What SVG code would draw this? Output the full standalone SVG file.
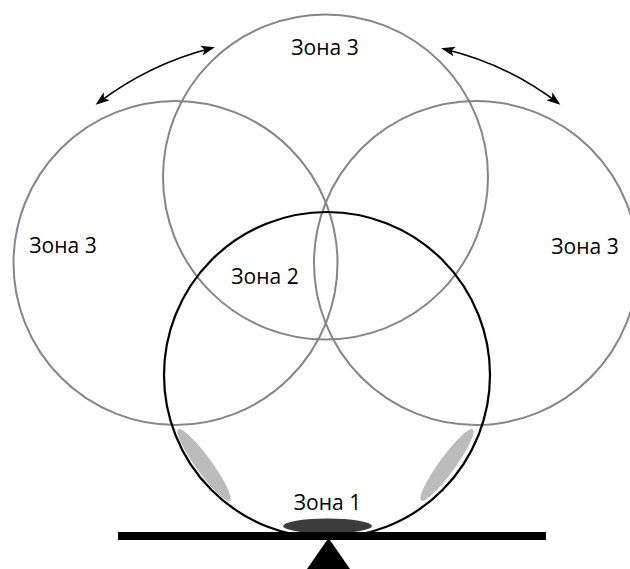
<svg xmlns="http://www.w3.org/2000/svg" width="630" height="569" viewBox="0 0 630 569">
<style>
.zone{fill:none;stroke:#858585;stroke-width:2}
.main{fill:none;stroke:#000;stroke-width:2.2}
.lbl{font-family:"Open Sans","Noto Sans",sans-serif;font-size:21px;fill:#000;text-anchor:middle}
.arr{fill:none;stroke:#000;stroke-width:1.6}
.pad{fill:#bcbcbc}
</style>
<defs>
<marker id="ah" viewBox="0 0 14 10" refX="11" refY="5" markerWidth="14" markerHeight="10" markerUnits="userSpaceOnUse" orient="auto-start-reverse">
<path d="M0,0 L14,5 L0,10 L3.5,5 z" fill="#000"/>
</marker>
</defs>
<rect width="630" height="569" fill="#fff"/>
<g id="zone3-top"><circle class="zone" cx="325.5" cy="177" r="162.5"/><text class="lbl" x="325" y="55">Зона 3</text></g>
<g id="zone3-left"><circle class="zone" cx="175.5" cy="263" r="162"/><text class="lbl" x="63" y="253">Зона 3</text></g>
<g id="zone3-right"><circle class="zone" cx="476" cy="263" r="162"/><text class="lbl" x="585" y="254">Зона 3</text></g>
<g id="zone2"><circle class="main" cx="327" cy="375" r="163"/><text class="lbl" x="265" y="284">Зона 2</text></g>
<g id="pads">
<ellipse class="pad" cx="204" cy="465" rx="44" ry="8" transform="rotate(54 204 465)"/>
<ellipse class="pad" cx="447" cy="465" rx="44" ry="8" transform="rotate(-54 447 465)"/>
</g>
<g id="zone1"><ellipse cx="327.5" cy="526" rx="44.5" ry="7.5" fill="#3c3c3c"/><text class="lbl" x="327.5" y="510">Зона 1</text></g>
<g id="base">
<rect x="118" y="532" width="428" height="8" fill="#000"/>
<polygon points="328.5,538 307,569 350,569" fill="#000"/>
</g>
<g id="connectors">
<path class="arr" d="M98,103 Q149,64 212,48" marker-start="url(#ah)" marker-end="url(#ah)"/>
<path class="arr" d="M444,49 Q507,64 558,103" marker-start="url(#ah)" marker-end="url(#ah)"/>
</g>
</svg>
